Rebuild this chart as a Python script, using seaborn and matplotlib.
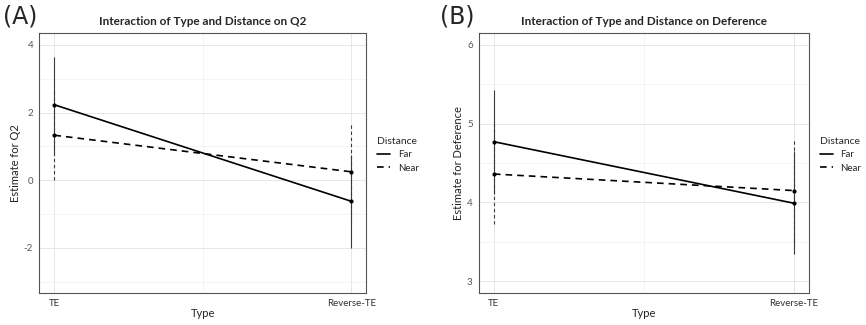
import matplotlib
matplotlib.use("Agg")
import matplotlib.pyplot as plt
from matplotlib.ticker import MultipleLocator
import seaborn as sns
import pandas as pd

types = ["TE", "Reverse-TE"]
distances = ["Far", "Near"]

# panel A: Q2
q2_far = [2.23, -0.62]
q2_far_lo = [0.80, -2.00]
q2_far_hi = [3.64, 0.76]
q2_near = [1.33, 0.25]
q2_near_lo = [0.02, -1.16]
q2_near_hi = [2.64, 1.66]

# panel B: Deference
def_far = [4.77, 3.99]
def_far_lo = [4.11, 3.34]
def_far_hi = [5.43, 4.65]
def_near = [4.36, 4.15]
def_near_lo = [3.72, 3.50]
def_near_hi = [5.00, 4.80]

sns.set_theme(style="white")
plt.rcParams["font.family"] = ["Lato", "DejaVu Sans"]
plt.rcParams["axes.unicode_minus"] = False


def make_df(far, far_lo, far_hi, near, near_lo, near_hi):
    rows = []
    for d, est, lo, hi in [("Far", far, far_lo, far_hi), ("Near", near, near_lo, near_hi)]:
        for i, t in enumerate(types):
            rows.append({"Type": t, "pos": i, "Distance": d,
                         "est": est[i], "lo": lo[i], "hi": hi[i]})
    return pd.DataFrame(rows)


def panel(ax, df, title, ylabel, ylim, major, minor):
    ax.set_axisbelow(True)
    ax.yaxis.set_major_locator(MultipleLocator(major))
    ax.yaxis.set_minor_locator(MultipleLocator(minor))
    ax.set_xticks([0, 1])
    ax.set_xticks([0.5], minor=True)
    ax.grid(which="major", color="#e6e6e6", linewidth=0.7)
    ax.grid(which="minor", color="#f0f0f0", linewidth=0.5)

    styles = {"Far": "-", "Near": (0, (3, 2.5))}
    for d in distances:
        sub = df[df["Distance"] == d]
        ax.vlines(sub["pos"], sub["lo"], sub["hi"], colors="#3a3a3a",
                  linewidth=0.8, linestyles=styles[d], zorder=2)

    sns.lineplot(data=df, x="pos", y="est", style="Distance", color="black",
                 dashes={"Far": "", "Near": (4, 3)}, markers={"Far": "o", "Near": "o"},
                 markersize=3, markeredgewidth=0, linewidth=1.2, ax=ax, zorder=3)

    ax.set_xlim(-0.05, 1.05)
    ax.set_ylim(*ylim)
    ax.set_xticklabels(types)
    ax.set_xlabel("Type", fontsize=8, color="#222222", labelpad=0)
    ax.set_ylabel(ylabel, fontsize=8, color="#222222", labelpad=2)
    ax.set_title(title, fontsize=8.5, fontweight="bold", pad=6)
    ax.tick_params(axis="both", which="major", length=2.5, width=0.5, color="#444444",
                   labelsize=7, labelcolor="#555555", pad=2)
    ax.tick_params(axis="both", which="minor", length=0)
    ax.tick_params(axis="x", labelcolor="#333333")
    for s in ax.spines.values():
        s.set_color("#555555")
        s.set_linewidth(0.8)

    leg = ax.legend(title="Distance", loc="upper left", bbox_to_anchor=(1.035, 0.6),
                    frameon=False, fontsize=7, title_fontsize=7.5, handlelength=1.3,
                    handletextpad=0.8, labelspacing=0.45, borderaxespad=0, borderpad=0)
    leg._legend_box.align = "left"
    for h in leg.legend_handles:
        h.set_marker("")
        h.set_color("black")


fig = plt.figure(figsize=(8.66, 3.25), dpi=100)
ax1 = fig.add_axes([0.0456, 0.0985, 0.377, 0.80])
ax2 = fig.add_axes([0.553, 0.0985, 0.3807, 0.80])

panel(ax1, make_df(q2_far, q2_far_lo, q2_far_hi, q2_near, q2_near_lo, q2_near_hi),
      "Interaction of Type and Distance on Q2", "Estimate for Q2", (-3.33, 4.35), 2, 1)
panel(ax2, make_df(def_far, def_far_lo, def_far_hi, def_near, def_near_lo, def_near_hi),
      "Interaction of Type and Distance on Deference", "Estimate for Deference",
      (2.85, 6.15), 1, 0.5)

fig.text(0.003, 0.985, "(A)", fontsize=17, va="top", ha="left", family=["DejaVu Sans"])
fig.text(0.508, 0.985, "(B)", fontsize=17, va="top", ha="left", family=["DejaVu Sans"])

fig.savefig("out.png", dpi=100)
